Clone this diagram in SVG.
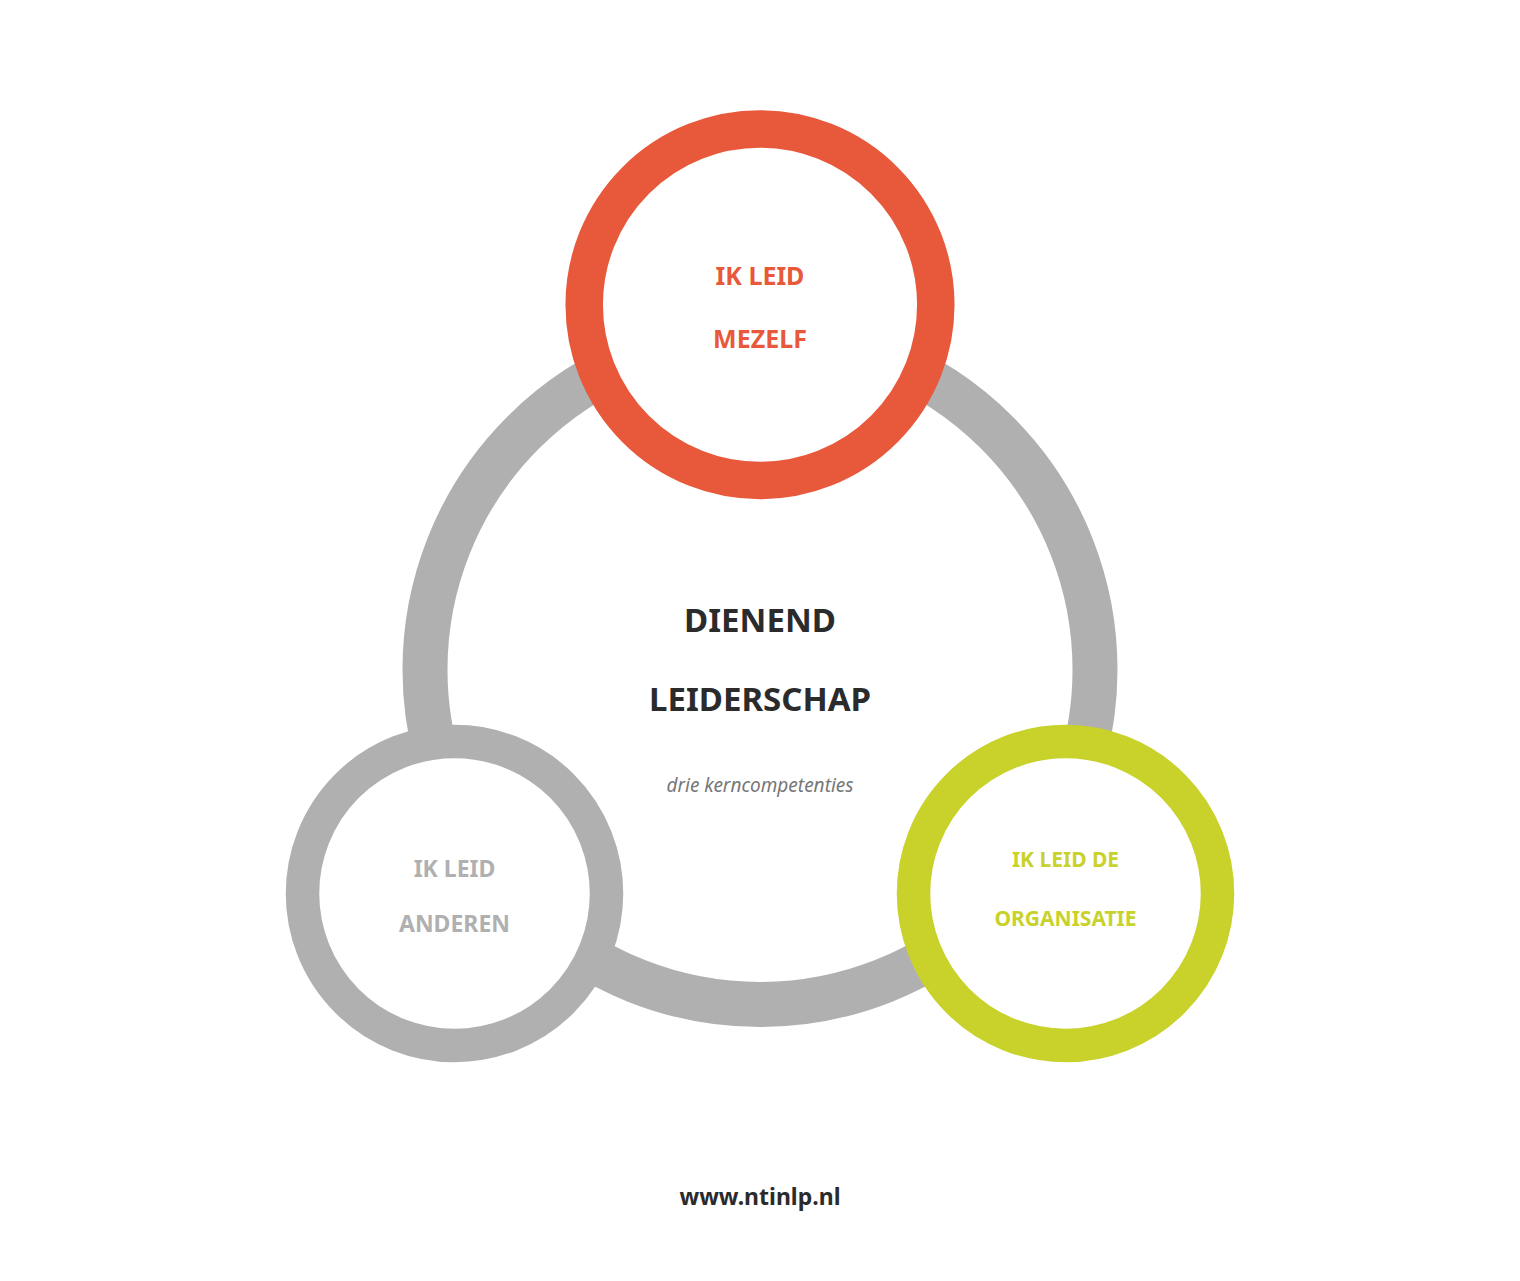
<svg xmlns="http://www.w3.org/2000/svg" width="1520" height="1281" viewBox="0 0 1520 1281">
<style>
text{font-family:"Noto Sans","Open Sans","Liberation Sans",sans-serif;font-weight:700;text-anchor:middle}
.red{fill:#E8583A}
.gray{fill:#B0B0B0}
.green{fill:#C8D22B}
.dark{fill:#2B2B2B}
</style>
<rect width="1520" height="1281" fill="#fff"/>
<g id="center">
<circle cx="760" cy="669.5" r="335" fill="#fff" stroke="#B0B0B0" stroke-width="45"/>
<text x="760" y="632" font-size="33" class="dark">DIENEND</text>
<text x="760" y="711" font-size="33" class="dark">LEIDERSCHAP</text>
<text x="760" y="792" font-size="19" font-style="italic" style="font-weight:400" fill="#777">drie kerncompetenties</text>
</g>
<g id="mezelf">
<circle cx="760" cy="304.7" r="175.8" fill="#fff" stroke="#E8583A" stroke-width="37.5"/>
<text x="760" y="285" font-size="25" class="red">IK LEID</text>
<text x="760" y="348" font-size="25" class="red">MEZELF</text>
</g>
<g id="anderen">
<circle cx="454.5" cy="893.5" r="152" fill="#fff" stroke="#B0B0B0" stroke-width="33.5"/>
<text x="454.5" y="877" font-size="23" class="gray">IK LEID</text>
<text x="454.5" y="932" font-size="23" class="gray">ANDEREN</text>
</g>
<g id="organisatie">
<circle cx="1065.5" cy="893.5" r="152" fill="#fff" stroke="#C8D22B" stroke-width="33.5"/>
<text x="1065.5" y="867" font-size="21" class="green">IK LEID DE</text>
<text x="1065.5" y="926" font-size="21" class="green">ORGANISATIE</text>
</g>
<g id="connectors"></g>
<text x="760" y="1205" font-size="23" class="dark">www.ntinlp.nl</text>
</svg>
